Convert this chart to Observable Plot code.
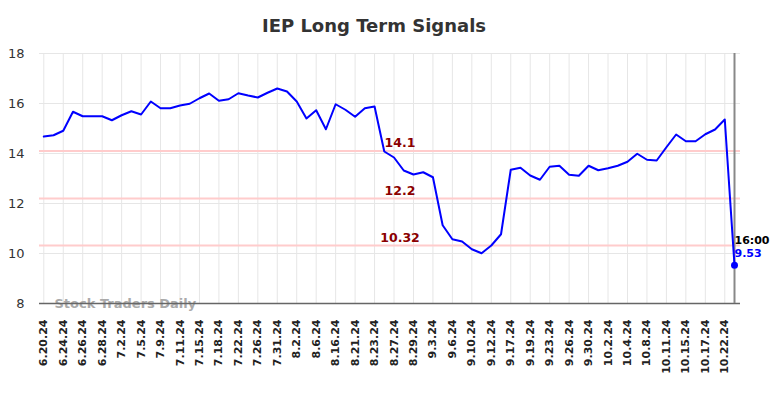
<!DOCTYPE html>
<html><head><meta charset="utf-8">
<script src="https://cdn.jsdelivr.net/npm/d3@7"></script>
<script src="https://cdn.jsdelivr.net/npm/@observablehq/plot@0.6"></script>
<style>
body{margin:0;background:#fff;font-family:"DejaVu Sans",sans-serif;}
#title{height:40px;width:748px;text-align:center;font-weight:bold;font-size:18px;color:#333;line-height:52px;overflow:visible;white-space:nowrap;}
#chart svg{display:block;}
</style></head>
<body>
<div id="title">IEP Long Term Signals</div>
<div id="chart"></div>
<script>
const dates = ["6.20.24","6.21.24","6.24.24","6.25.24","6.26.24","6.27.24","6.28.24","7.1.24","7.2.24","7.3.24",
"7.5.24","7.8.24","7.9.24","7.10.24","7.11.24","7.12.24","7.15.24","7.16.24","7.18.24","7.19.24",
"7.22.24","7.24.24","7.26.24","7.29.24","7.31.24","8.1.24","8.2.24","8.5.24","8.6.24","8.15.24",
"8.16.24","8.19.24","8.21.24","8.22.24","8.23.24","8.26.24","8.27.24","8.28.24","8.29.24","8.30.24",
"9.3.24","9.4.24","9.6.24","9.9.24","9.10.24","9.11.24","9.12.24","9.16.24","9.17.24","9.18.24",
"9.19.24","9.20.24","9.23.24","9.25.24","9.26.24","9.27.24","9.30.24","10.1.24","10.2.24","10.3.24",
"10.4.24","10.7.24","10.8.24","10.10.24","10.11.24","10.14.24","10.15.24","10.16.24","10.17.24","10.21.24",
"10.22.24","10.23.24"];
const values = [14.68,14.73,14.91,15.67,15.49,15.49,15.49,15.33,15.53,15.69,
15.56,16.08,15.81,15.81,15.92,15.99,16.21,16.40,16.11,16.17,
16.41,16.32,16.24,16.43,16.60,16.48,16.08,15.40,15.73,14.97,
15.97,15.75,15.47,15.81,15.88,14.08,13.84,13.32,13.16,13.25,
13.05,11.13,10.57,10.48,10.17,10.01,10.32,10.77,13.35,13.43,
13.12,12.95,13.47,13.51,13.15,13.11,13.51,13.33,13.41,13.51,
13.67,13.99,13.75,13.72,14.25,14.76,14.49,14.49,14.77,14.96,
15.36,9.53];
const tickLabels = dates.filter((d, i) => i % 2 === 0 && i < dates.length - 1);
const yTicks = [8, 10, 12, 14, 16, 18];
const levels = [14.1, 12.2, 10.32];
const lastTime = "16:00";

const rows = values.map((v, i) => ({i, date: dates[i], value: v}));
const tickIdx = tickLabels.map(l => dates.indexOf(l));
const last = rows[rows.length - 1];

const chart = Plot.plot({
  width: 784, height: 358,
  marginTop: 13, marginBottom: 95, marginLeft: 39, marginRight: 44,
  style: {fontFamily: "DejaVu Sans", background: "#fff", overflow: "visible"},
  x: {type: "linear", domain: [0, values.length - 1], insetLeft: 4.3, insetRight: 6},
  y: {domain: [8, 18]},
  marks: [
    Plot.gridY(yTicks.slice(1), {stroke: "#e6e6e6", strokeOpacity: 1}),
    Plot.gridX(tickIdx, {stroke: "#e6e6e6", strokeOpacity: 1}),
    Plot.ruleY(levels, {stroke: "#ffcccc", strokeWidth: 2}),
    Plot.axisY(yTicks, {tickSize: 0, tickPadding: 15, fontSize: 13, fill: "#333", label: null}),
    Plot.axisX(tickIdx, {tickFormat: i => dates[i], tickRotate: -90, tickSize: 0, tickPadding: 16, fontSize: 11, fontWeight: "bold", fill: "#222", label: null}),
    Plot.text(["Stock Traders Daily"], {frameAnchor: "bottom-left", textAnchor: "start", lineAnchor: "bottom", dx: 15, dy: 4, fontSize: 13, fontWeight: "bold", fill: "#aaa"}),
    Plot.ruleY([8], {stroke: "#666", strokeWidth: 1.5}),
    Plot.ruleX([values.length - 1], {stroke: "#888", strokeWidth: 2}),
    Plot.text(levels, {y: d => d, text: d => String(d), frameAnchor: "middle", lineAnchor: "bottom", dx: 10, dy: -4, fontSize: 12.5, fontWeight: "bold", fill: "#8b0000"}),
    Plot.line(rows, {x: "i", y: "value", stroke: "#0000ff", strokeWidth: 2}),
    Plot.dot([last], {x: "i", y: "value", r: 3.5, fill: "#0000ff"}),
    Plot.text([last], {x: "i", y: "value", text: () => lastTime, textAnchor: "start", lineAnchor: "bottom", dy: -21, fontSize: 11, fontWeight: "bold", fill: "#000"}),
    Plot.text([last], {x: "i", y: "value", text: d => d.value.toFixed(2), textAnchor: "start", lineAnchor: "bottom", dy: -8.5, fontSize: 11, fontWeight: "bold", fill: "#0000ff"})
  ]
});
document.getElementById("chart").appendChild(chart);
</script>
</body></html>
